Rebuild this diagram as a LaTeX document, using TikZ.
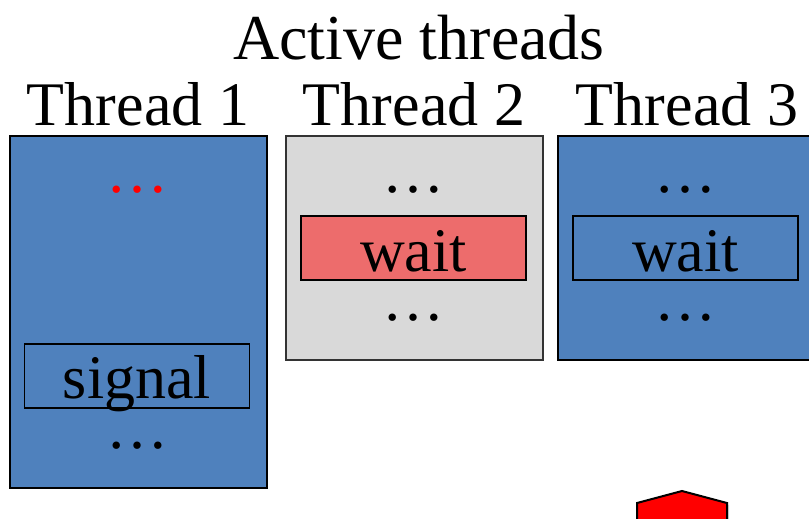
\documentclass[tikz,border=0pt]{standalone}
\usepackage{fontspec}
\setmainfont{Liberation Serif}
\usetikzlibrary{shadows}
\definecolor{tblue}{RGB}{79,129,189}
\definecolor{tgray}{RGB}{217,217,217}
\definecolor{tred}{RGB}{237,108,108}
\tikzset{
  thrbox/.style={draw=black,line width=2pt,inner sep=0pt,anchor=north west,minimum width=257pt},
  opbox/.style={draw=black,line width=1.6pt,inner sep=0pt,minimum width=225pt,
    text height=55pt,text depth=9pt,anchor=north,font=\fontsize{62}{70}\selectfont},
  big/.style={font=\fontsize{62}{70}\selectfont,inner sep=0pt,anchor=base},
  ttl/.style={font=\fontsize{64}{72}\selectfont,inner sep=0pt,anchor=base},
}
\begin{document}
\begin{tikzpicture}[x=1pt,y=-1pt]
\useasboundingbox (0,0) rectangle (809,519);
\clip (0,0) rectangle (809,519);
% titles
\node[ttl] (title) at (419,60) {Active threads};
\node[big] (l1) at (138,125) {Thread 1};
\node[big] (l2) at (414,125) {Thread 2};
\node[big] (l3) at (687,125) {Thread 3};
% thread boxes
\node[thrbox,fill=tblue,minimum height=352pt] (b1) at (9,135) {};
\node[thrbox,fill=tgray,draw=black!80,minimum height=224pt] (b2) at (285,135) {};
\node[thrbox,fill=tblue,minimum height=224pt] (b3) at (557,135) {};
% thread 1 content
\node[big,text=red] (d1a) at (137.5,192) {…};
\node[opbox] (sig) at (137,343) {signal};
\node[big] (d1b) at (137.5,448) {…};
% thread 2 content
\node[big] (d2a) at (413,192) {…};
\node[opbox,fill=tred,text depth=8pt,text height=56pt] (w2) at (413.5,215) {wait};
\node[big] (d2b) at (413,320) {…};
% thread 3 content
\node[big] (d3a) at (685.5,192) {…};
\node[opbox,text depth=8pt,text height=56pt] (w3) at (685.5,215) {wait};
\node[big] (d3b) at (685.5,320) {…};
% red arrow shape at bottom
\draw[fill=red,line width=2pt,line join=miter,drop shadow={opacity=0.25,shadow xshift=2pt,shadow yshift=-2pt}]
  (637,530) -- (637,503) -- (682,491) -- (727,503) -- (727,530) -- cycle;
\end{tikzpicture}
\end{document}
